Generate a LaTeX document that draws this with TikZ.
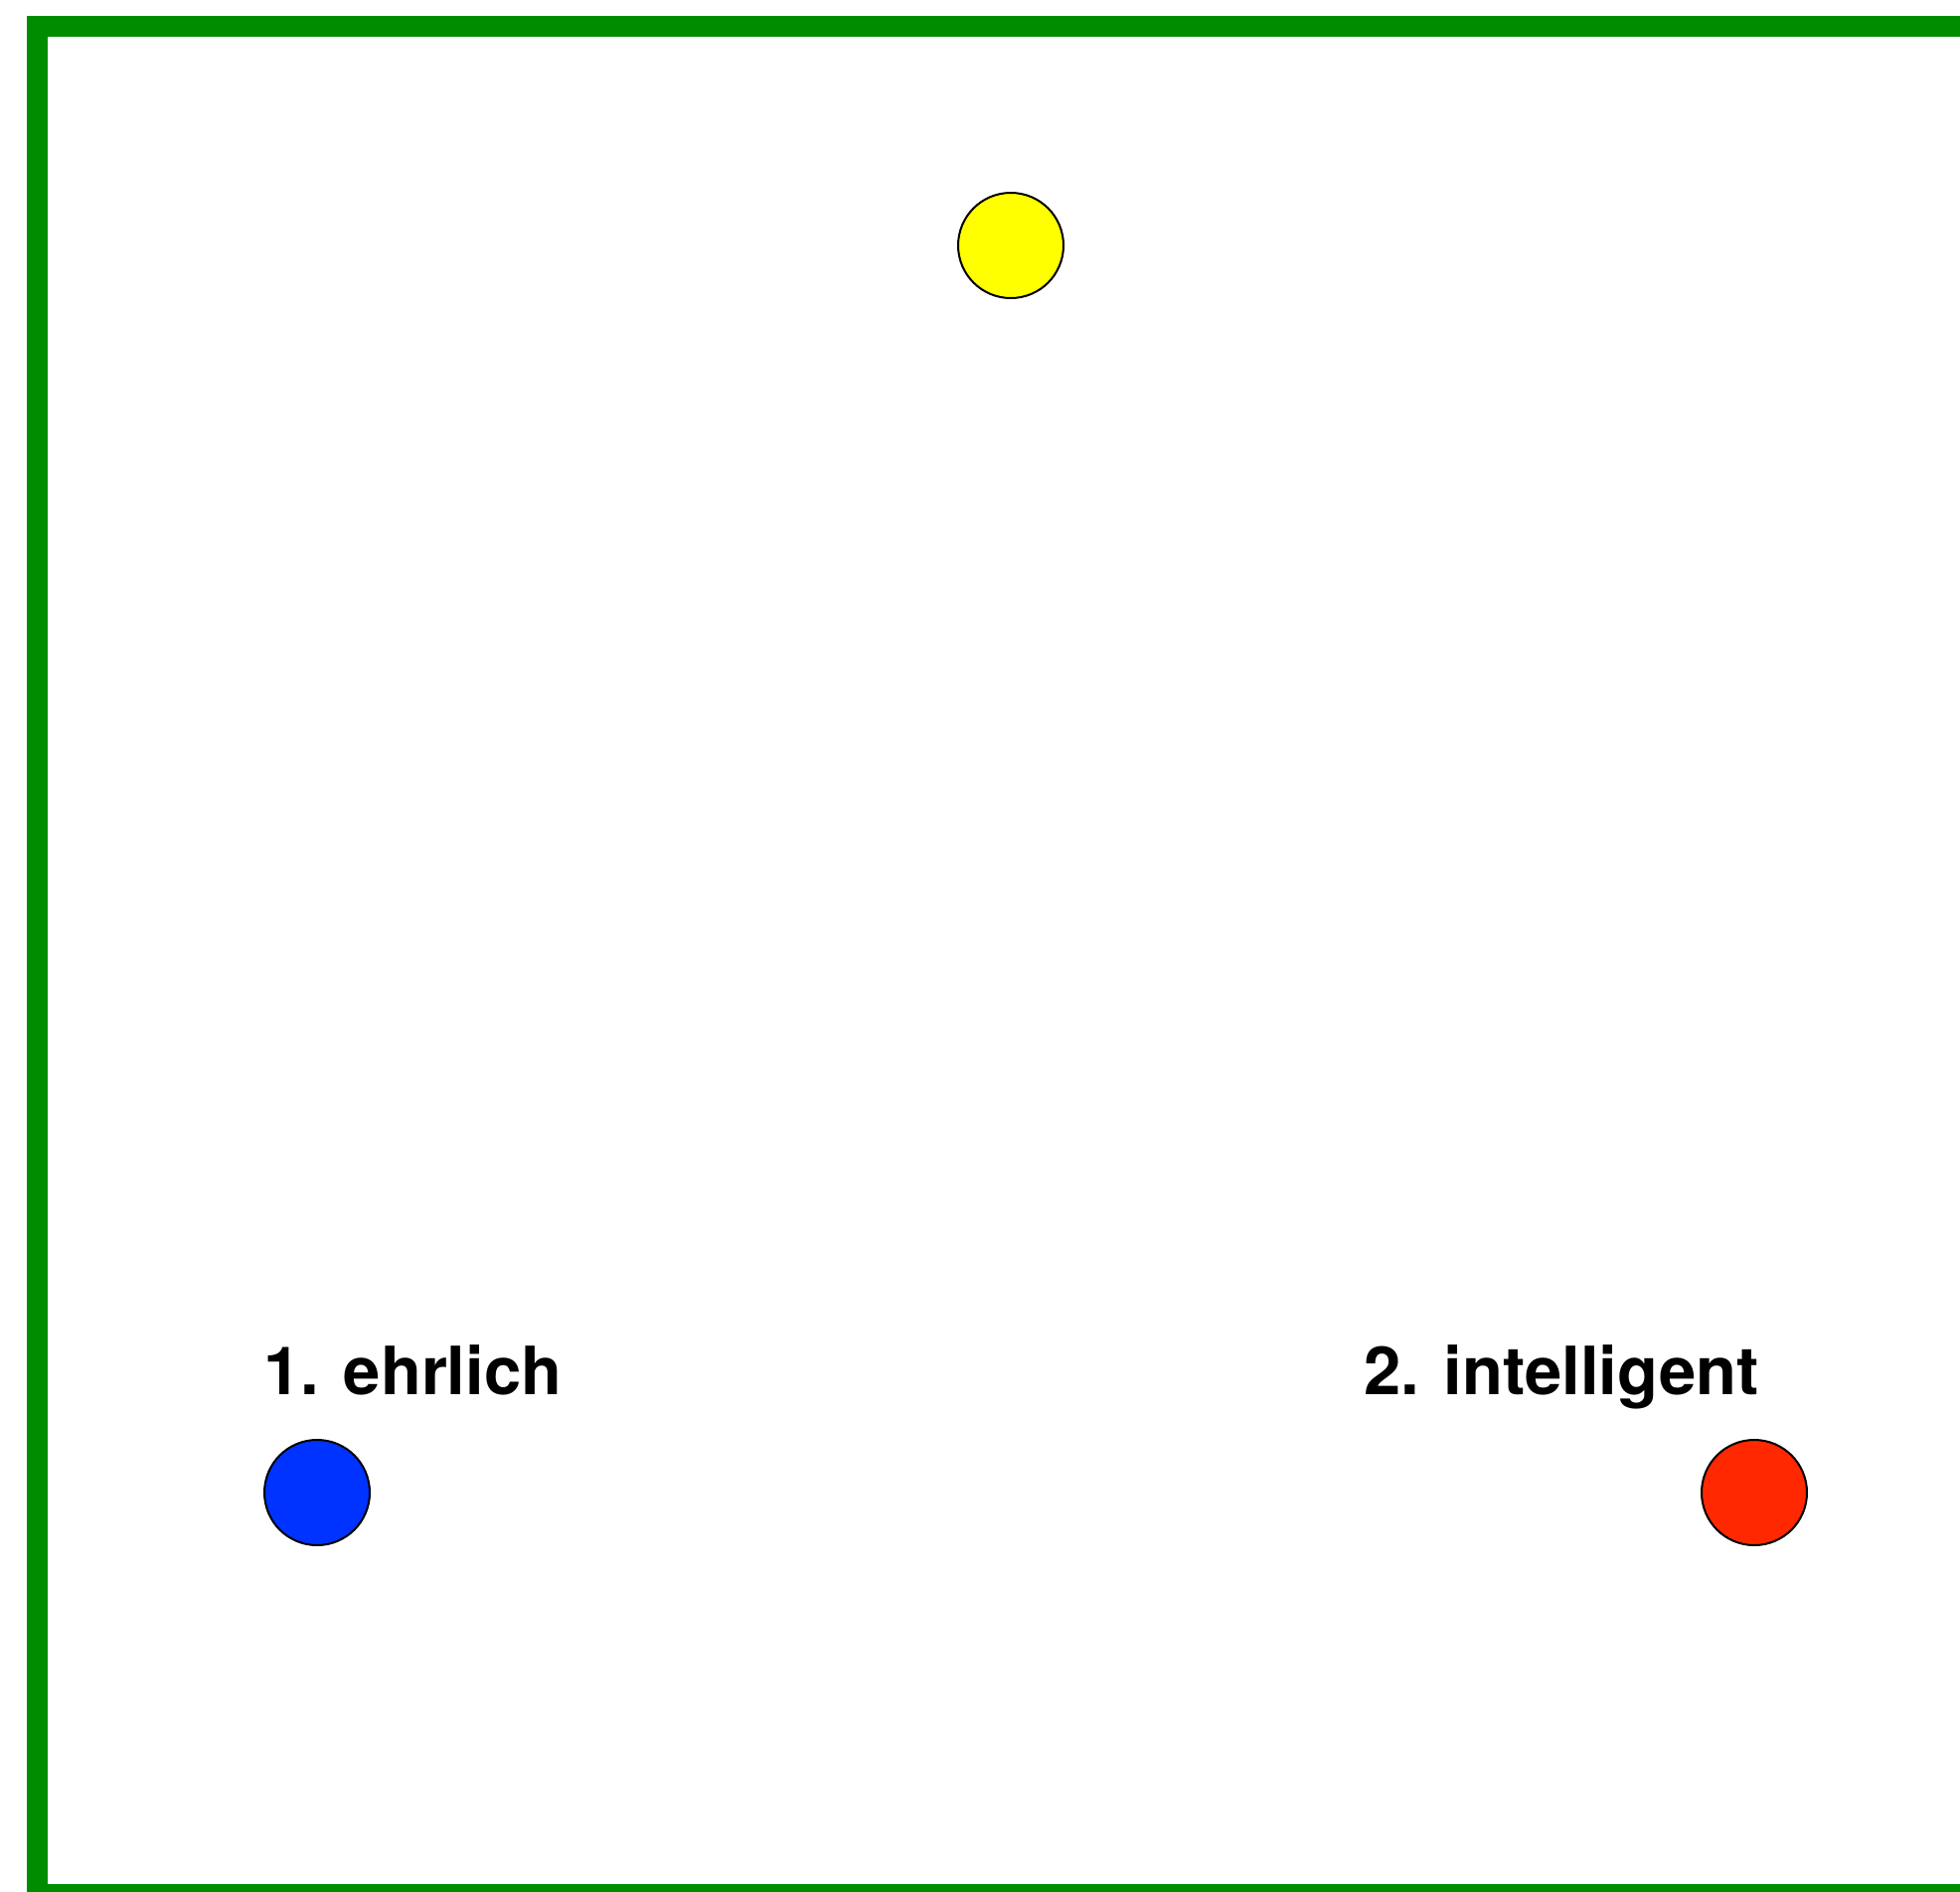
\documentclass[tikz,border=0pt]{standalone}
\usepackage{fontspec}
\setmainfont{TeX Gyre Heros}
\definecolor{framegreen}{RGB}{0,140,0}
\definecolor{dotyellow}{RGB}{255,255,0}
\definecolor{dotblue}{RGB}{0,51,255}
\definecolor{dotred}{RGB}{255,40,0}
\tikzset{
  dot/.style={circle, draw=black, line width=2bp, minimum size=106bp, inner sep=0pt},
  lab/.style={anchor=base west, inner sep=0pt, font=\fontsize{67bp}{80bp}\selectfont\bfseries},
  frameline/.style={draw=framegreen, line width=21bp}
}
\begin{document}
\begin{tikzpicture}[x=1bp,y=-1bp]
\useasboundingbox (0,0) rectangle (1972,1904);
\clip (0,0) rectangle (1972,1904);
\fill[white] (0,0) rectangle (1972,1904);
\draw[frameline] (37.5,26) rectangle (2100,1906.5);
\node[dot, fill=dotyellow] (yellow) at (1017,247) {};
\node[dot, fill=dotblue] (blue) at (319,1502) {};
\node[dot, fill=dotred] (red) at (1765,1502) {};
\node[lab] (l1) at (265,1403) {1. ehrlich};
\node[lab] (l2) at (1372,1403) {2. intelligent};
\end{tikzpicture}
\end{document}
